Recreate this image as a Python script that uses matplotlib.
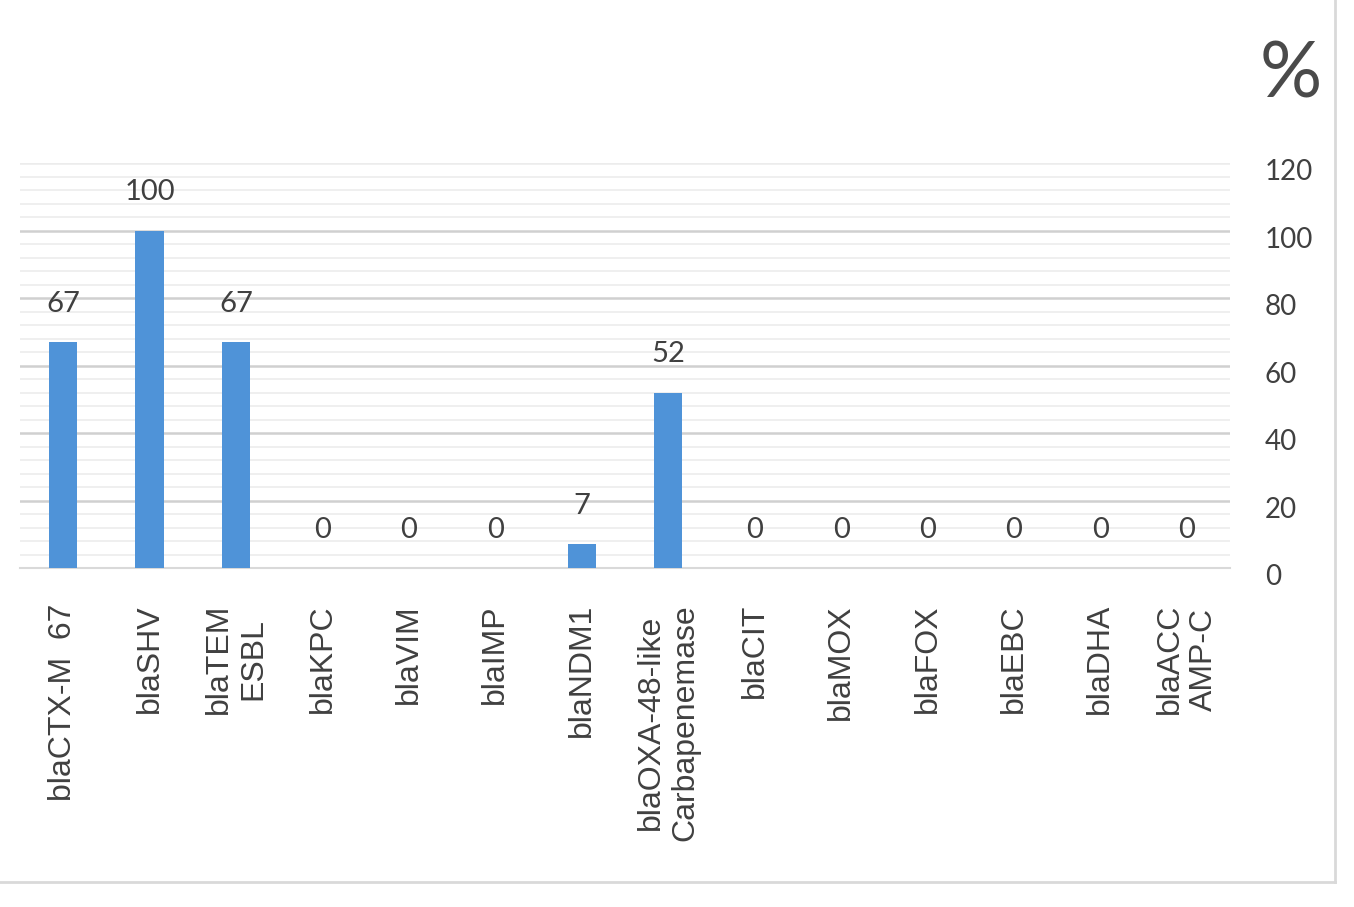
import matplotlib

matplotlib.use("Agg")
import matplotlib.pyplot as plt  # noqa: E402
from matplotlib.lines import Line2D  # noqa: E402
from matplotlib.ticker import MultipleLocator  # noqa: E402
from matplotlib.transforms import ScaledTranslation  # noqa: E402

genes = [
    "blaCTX-M  67", "blaSHV", "blaTEM\nESBL", "blaKPC", "blaVIM", "blaIMP",
    "blaNDM1", "blaOXA-48-like\nCarbapenemase", "blaCIT", "blaMOX", "blaFOX",
    "blaEBC", "blaDHA", "blaACC\nAMP-C",
]
percent = [67, 100, 67, 0, 0, 0, 7, 52, 0, 0, 0, 0, 0, 0]
y_ticks = [0, 20, 40, 60, 80, 100, 120]

_BAR = "#4f93d8"
_FG = "#404040"
_GRID = "#d0d0d0"
_MINOR = "#ececec"
_NARROW = ["Lato", "DejaVu Sans"]
_SANS = ["Liberation Sans", "DejaVu Sans"]

fig = plt.figure(figsize=(13.54, 9.07), dpi=100)
ax = fig.add_axes([20 / 1354, 1 - 568 / 907, 1210 / 1354, 405 / 907])

x = list(range(len(genes)))
bars = ax.bar(x, percent, width=0.33, color=_BAR, zorder=3)
ax.bar_label(bars, labels=[str(v) for v in percent], padding=18,
             fontsize=21, color=_FG, family=_NARROW)

ax.set_xlim(-0.5, len(genes) - 0.5)
ax.set_ylim(0, 120)

ax.set_xticks(x)
ax.set_xticklabels(genes, rotation=90, fontsize=23, color=_FG, family=_SANS)
for lbl in ax.get_xticklabels():
    lbl.set_multialignment("center")
ax.tick_params(axis="x", length=0, pad=26)

ax.yaxis.tick_right()
ax.set_yticks(y_ticks)
ax.set_yticklabels([str(v) for v in y_ticks], fontsize=20, color=_FG, family=_NARROW)
ax.tick_params(axis="y", which="both", length=0, pad=25)
shift = ScaledTranslation(0, -5 / 72, fig.dpi_scale_trans)
for lbl in ax.get_yticklabels():
    lbl.set_transform(lbl.get_transform() + shift)

ax.yaxis.set_minor_locator(MultipleLocator(4))
ax.grid(axis="y", which="minor", color=_MINOR, linewidth=1.2, zorder=0)
ax.grid(axis="y", which="major", color=_GRID, linewidth=1.8, zorder=1)
ax.yaxis.get_gridlines()[-1].set_color(_MINOR)
ax.set_axisbelow(True)

for side in ("top", "left", "right"):
    ax.spines[side].set_visible(False)
ax.spines["bottom"].set_color("#d9d9d9")
ax.spines["bottom"].set_linewidth(1.5)

fig.text(1291 / 1354, 1 - 76 / 907, "%", fontsize=56, color="#4a4a4a",
         family=_NARROW, ha="center", va="center")

# outer chart frame (only right and bottom edges visible in the reference)
fx = 1335 / 1354
fy = 1 - 882 / 907
fig.add_artist(Line2D([0, fx], [fy, fy], color="#d9d9d9", linewidth=2))
fig.add_artist(Line2D([fx, fx], [fy, 1], color="#d9d9d9", linewidth=2))

fig.savefig("out.png", dpi=100, facecolor="white")
plt.close(fig)
